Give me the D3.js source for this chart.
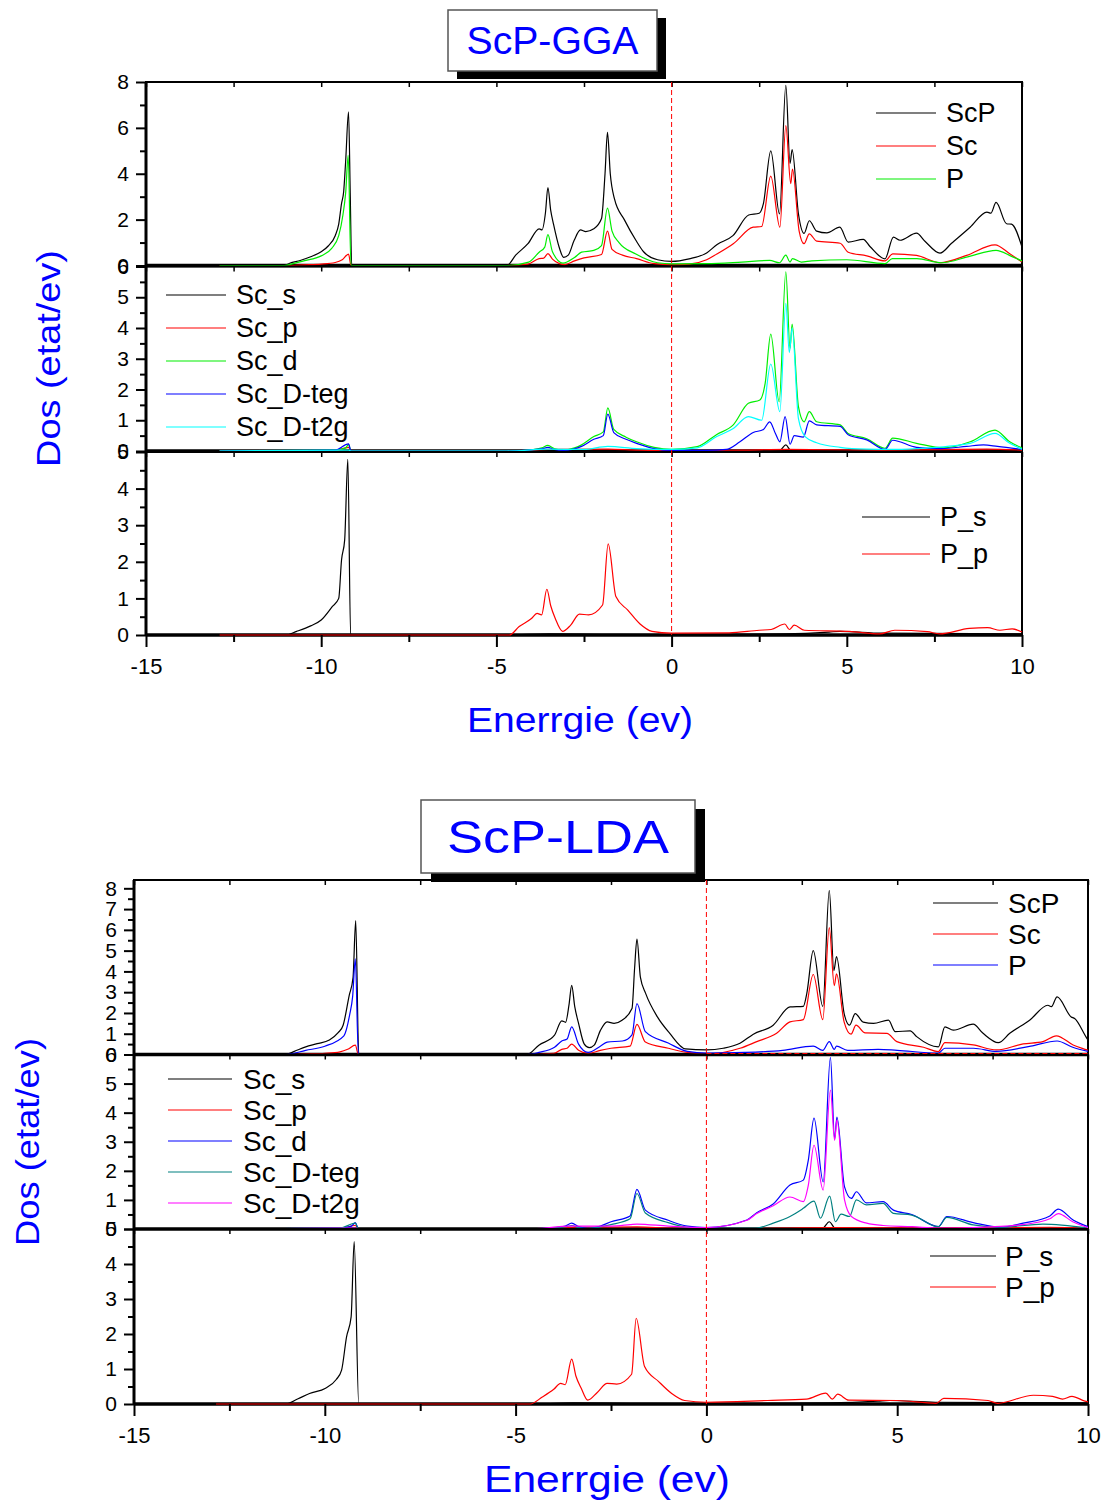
<!DOCTYPE html>
<html>
<head>
<meta charset="utf-8">
<script src="https://cdn.jsdelivr.net/npm/d3@7"></script>
<style>
  body { margin: 0; background: #fff; }
  svg { display: block; }
  text { font-family: "Liberation Sans", Arial, sans-serif; }
</style>
</head>
<body>
<div id="container"></div>
<script>
/**
 * DATA  ([energy eV, DOS states/eV] pairs)
 */
const xTicks = [-15, -10, -5, 0, 5, 10]
const xMinor = [-12.5, -7.5, -2.5, 2.5, 7.5]
const xTopTicks = [-15, -12.5, -10, -7.5, -5, -2.5, 0, 2.5, 5, 7.5, 10]

// ---- GGA
const ggaScP = [[-12.9,0],[-11.05,0],[-10.9,0.1],[-10.6,0.22],[-10.3,0.38],[-10.0,0.6],[-9.8,0.85],[-9.6,1.3],[-9.5,1.8],[-9.42,2.7],[-9.36,3.2],[-9.3,4.6],[-9.22,6.7],[-9.17,3.0],[-9.13,0],[-4.7,0],[-4.45,0.45],[-4.1,0.95],[-3.78,1.6],[-3.7,1.55],[-3.6,2.3],[-3.53,3.4],[-3.45,2.4],[-3.37,1.8],[-3.2,0.75],[-3.08,0.35],[-2.95,0.45],[-2.78,1.1],[-2.6,1.55],[-2.45,1.48],[-2.22,1.6],[-2.0,2.05],[-1.9,4.0],[-1.83,5.8],[-1.75,4.0],[-1.63,2.9],[-1.35,2.0],[-1.02,1.1],[-0.8,0.6],[-0.4,0.25],[0,0.18],[0.5,0.29],[1.0,0.55],[1.3,0.92],[1.75,1.3],[2.2,2.2],[2.5,2.28],[2.62,2.7],[2.83,5.0],[3.08,2.25],[3.26,7.85],[3.38,4.45],[3.44,5.05],[3.62,2.25],[3.78,1.4],[3.93,1.95],[4.14,1.5],[4.43,1.42],[4.8,1.67],[5.04,1.02],[5.47,1.14],[5.66,0.83],[6.09,0.29],[6.33,1.24],[6.52,1.1],[6.99,1.41],[7.23,1.06],[7.66,0.54],[7.99,0.97],[8.52,1.67],[9.0,2.33],[9.11,2.28],[9.26,2.75],[9.56,1.82],[9.7,1.8],[10,0.8]]
const ggaSc = [[-12.9,0],[-11.05,0],[-10.5,0.03],[-10,0.06],[-9.6,0.13],[-9.4,0.25],[-9.22,0.5],[-9.15,0],[-4.7,0],[-4.1,0.06],[-3.78,0.3],[-3.65,0.32],[-3.53,0.52],[-3.4,0.28],[-3.2,0.08],[-3.05,0.04],[-2.77,0.2],[-2.5,0.33],[-2.0,0.48],[-1.83,1.5],[-1.7,0.7],[-1.4,0.45],[-1.0,0.3],[-0.5,0.08],[0,0.03],[0.5,0.06],[1.0,0.25],[1.29,0.5],[1.76,0.95],[2.33,1.67],[2.57,1.7],[2.83,3.9],[3.09,1.67],[3.26,6.1],[3.4,3.57],[3.45,4.2],[3.64,1.5],[3.78,0.95],[3.93,1.38],[4.14,1.06],[4.81,0.97],[5.04,0.58],[5.57,0.42],[6.09,0.2],[6.31,0.51],[6.99,0.44],[7.66,0.12],[8.42,0.44],[9.23,0.9],[9.65,0.51],[10,0.15]]
const ggaP = [[-12.9,0],[-11.05,0],[-10.8,0.08],[-10.5,0.2],[-10,0.42],[-9.7,0.75],[-9.5,1.3],[-9.38,2.2],[-9.3,3.2],[-9.23,4.8],[-9.15,0],[-4.7,0],[-4.08,0.15],[-3.78,0.58],[-3.62,0.8],[-3.53,1.35],[-3.4,0.6],[-3.1,0.1],[-2.77,0.35],[-2.57,0.58],[-2.22,0.66],[-2.0,0.87],[-1.83,2.5],[-1.7,1.5],[-1.5,1.0],[-1.02,0.5],[-0.4,0.12],[0,0.07],[1,0.08],[2,0.15],[2.8,0.22],[3.08,0.12],[3.26,0.45],[3.38,0.15],[3.45,0.3],[3.7,0.15],[4.0,0.2],[5,0.25],[6.09,0.08],[6.3,0.3],[7,0.3],[7.7,0.12],[8.5,0.4],[9.26,0.66],[9.7,0.4],[10,0.2]]

const ggaScS = [[-12.9,0],[-9.2,0.02],[-9.1,0],[-4.7,0],[-3.5,0.03],[-1.8,0.02],[0,0.01],[2.8,0.02],[3.1,0.03],[3.26,0.2],[3.4,0.02],[5,0.02],[10,0.02]]
const ggaScPorb = [[-12.9,0],[-9.6,0.02],[-9.22,0.12],[-9.15,0],[-4.7,0],[-3.5,0.05],[-1.82,0.06],[-1,0.03],[0,0.01],[2,0.03],[3.3,0.05],[6,0.03],[9,0.06],[10,0.03]]
const ggaScD = [[-12.9,0],[-9.6,0.03],[-9.3,0.1],[-9.22,0.22],[-9.15,0],[-4.7,0],[-4.0,0.04],[-3.7,0.1],[-3.53,0.18],[-3.35,0.08],[-3.1,0.02],[-2.77,0.1],[-2.57,0.2],[-2.22,0.47],[-1.95,0.62],[-1.82,1.4],[-1.65,0.7],[-1.3,0.45],[-1.0,0.3],[-0.5,0.12],[0,0.05],[0.73,0.14],[1.29,0.54],[1.76,0.85],[2.19,1.55],[2.52,1.66],[2.67,2.2],[2.83,3.8],[3.07,1.6],[3.26,5.83],[3.38,3.34],[3.44,4.13],[3.62,1.44],[3.78,0.95],[3.93,1.28],[4.14,0.95],[4.81,0.85],[5.04,0.57],[5.57,0.4],[6.09,0.09],[6.31,0.42],[6.99,0.25],[7.76,0.1],[8.52,0.3],[9.23,0.68],[9.65,0.3],[10,0.1]]
const ggaScTeg = [[-12.9,0],[-9.6,0.03],[-9.22,0.23],[-9.15,0],[-4.7,0],[-3.7,0.07],[-3.53,0.12],[-3.35,0.05],[-3.1,0.02],[-2.57,0.15],[-2.22,0.38],[-1.95,0.5],[-1.82,1.2],[-1.65,0.6],[-1.3,0.38],[-1.0,0.25],[-0.5,0.08],[0,0.02],[1.0,0.02],[1.56,0.05],[1.95,0.3],[2.33,0.6],[2.62,0.7],[2.8,0.95],[2.97,0.55],[3.09,0.3],[3.24,1.12],[3.38,0.22],[3.5,0.5],[3.76,0.45],[3.93,0.98],[4.14,0.85],[4.81,0.8],[5.04,0.53],[5.57,0.36],[6.09,0.05],[6.31,0.35],[6.99,0.12],[7.7,0.08],[8.42,0.15],[8.9,0.2],[9.3,0.15],[10,0.05]]
const ggaScT2g = [[-12.9,0],[-9.22,0.03],[-9.15,0],[-4.7,0],[-3.53,0.06],[-2.5,0.05],[-1.82,0.15],[-1.0,0.08],[0,0.05],[0.73,0.1],[1.29,0.47],[1.76,0.73],[2.19,1.12],[2.57,1.0],[2.83,2.83],[3.09,1.28],[3.26,4.8],[3.36,3.2],[3.44,4.0],[3.62,1.05],[3.81,0.47],[4.14,0.27],[4.81,0.12],[5.57,0.06],[6.23,0.05],[6.99,0.08],[8.52,0.25],[9.23,0.57],[9.65,0.25],[10,0.06]]

const ggaPs = [[-12.9,0],[-11.02,0],[-10.7,0.1],[-10.3,0.25],[-10.0,0.41],[-9.68,0.78],[-9.5,1.0],[-9.42,2.05],[-9.33,2.6],[-9.24,4.8],[-9.16,0],[-4.7,0],[-3.5,0.03],[-2,0.02],[0,0.01],[3.2,0.03],[4.5,0.08],[4.8,0.1],[6,0.05],[10,0.03]]
const ggaPp = [[-12.9,0],[-4.63,0],[-4.35,0.23],[-4.0,0.45],[-3.84,0.59],[-3.71,0.55],[-3.56,1.25],[-3.45,0.8],[-3.32,0.45],[-3.11,0.1],[-2.88,0.27],[-2.63,0.57],[-2.37,0.55],[-1.97,0.82],[-1.81,2.49],[-1.59,1.05],[-1.25,0.68],[-0.9,0.3],[-0.56,0.1],[0,0.05],[1.64,0.06],[2.5,0.13],[2.84,0.15],[3.23,0.3],[3.36,0.15],[3.5,0.27],[3.79,0.13],[5.07,0.1],[5.93,0.03],[6.37,0.13],[7.3,0.09],[7.65,0.03],[8.5,0.18],[9.02,0.2],[9.37,0.13],[9.72,0.17],[10,0.08]]

// ---- LDA
const ldaScP = [[-12.85,0],[-11.02,0],[-10.8,0.15],[-10.5,0.37],[-10.2,0.52],[-9.88,0.7],[-9.65,1.05],[-9.52,1.41],[-9.36,2.85],[-9.26,3.7],[-9.19,6.44],[-9.11,0],[-4.7,0],[-4.39,0.45],[-3.98,0.93],[-3.79,1.62],[-3.69,1.55],[-3.6,2.4],[-3.53,3.33],[-3.45,2.3],[-3.35,1.5],[-3.2,0.5],[-3.07,0.33],[-2.94,0.45],[-2.78,1.15],[-2.6,1.57],[-2.42,1.5],[-2.21,1.65],[-1.95,2.21],[-1.88,4.2],[-1.82,5.56],[-1.73,3.72],[-1.59,2.93],[-1.28,1.8],[-0.97,1.04],[-0.55,0.27],[0,0.22],[0.44,0.3],[0.88,0.54],[1.23,0.98],[1.75,1.41],[2.19,2.29],[2.54,2.32],[2.63,2.93],[2.8,5.0],[3.05,2.32],[3.22,7.9],[3.34,4.04],[3.41,4.71],[3.61,1.97],[3.75,1.41],[3.9,1.97],[4.11,1.56],[4.38,1.5],[4.77,1.65],[4.95,1.1],[5.34,1.14],[5.51,0.86],[6.08,0.37],[6.25,1.33],[6.47,1.17],[6.99,1.46],[7.25,1.02],[7.65,0.57],[7.95,1.02],[8.47,1.65],[8.95,2.37],[9.04,2.3],[9.19,2.77],[9.56,1.81],[9.65,1.73],[9.97,0.78],[10,0.7]]
const ldaSc = [[-12.85,0],[-11.02,0],[-10.5,0.03],[-10,0.06],[-9.6,0.13],[-9.4,0.25],[-9.2,0.45],[-9.12,0],[-4.7,0],[-4.0,0.05],[-3.79,0.25],[-3.65,0.3],[-3.53,0.5],[-3.35,0.2],[-3.1,0.05],[-2.78,0.2],[-2.5,0.3],[-2.0,0.4],[-1.82,1.45],[-1.6,0.6],[-1.0,0.3],[-0.5,0.1],[0,0.03],[0.88,0.3],[1.32,0.62],[1.84,1.02],[2.19,1.57],[2.54,1.68],[2.8,3.85],[3.05,1.68],[3.22,6.11],[3.35,3.32],[3.41,3.88],[3.61,1.56],[3.79,0.98],[3.92,1.41],[4.16,1.04],[4.73,1.02],[4.99,0.62],[5.69,0.35],[6.08,0.14],[6.25,0.57],[6.99,0.46],[7.6,0.22],[8.3,0.51],[8.82,0.62],[9.17,0.9],[9.61,0.46],[9.97,0.22],[10,0.2]]
const ldaP = [[-12.85,0],[-11.02,0],[-10.5,0.2],[-10,0.4],[-9.5,0.9],[-9.35,1.9],[-9.27,2.8],[-9.2,4.6],[-9.12,0],[-4.7,0],[-4.39,0.1],[-3.98,0.35],[-3.79,0.65],[-3.65,0.75],[-3.53,1.33],[-3.35,0.5],[-3.1,0.1],[-2.78,0.4],[-2.6,0.6],[-2.2,0.65],[-1.95,0.95],[-1.82,2.45],[-1.6,1.1],[-1.0,0.55],[-0.5,0.15],[0,0.07],[1,0.1],[2,0.2],[2.8,0.4],[3.05,0.2],[3.22,0.62],[3.35,0.25],[3.41,0.4],[3.7,0.2],[4.5,0.25],[5,0.2],[6.08,0.07],[6.25,0.3],[7,0.3],[7.6,0.15],[8.5,0.4],[9.19,0.65],[9.6,0.35],[10,0.15]]

const ldaScS = [[-12.85,0],[-9.2,0.02],[-9.1,0],[-4.7,0],[-3.5,0.03],[-1.8,0.02],[0,0.01],[2.8,0.02],[3.05,0.03],[3.22,0.25],[3.38,0.02],[5,0.02],[10,0.02]]
const ldaScPorb = [[-12.85,0],[-9.6,0.02],[-9.2,0.12],[-9.12,0],[-4.7,0],[-3.5,0.06],[-1.82,0.07],[-1,0.03],[0,0.01],[2,0.03],[3.3,0.05],[6,0.03],[9,0.06],[10,0.03]]
const ldaScD = [[-12.85,0],[-9.6,0.03],[-9.3,0.1],[-9.2,0.22],[-9.12,0],[-4.7,0],[-4.0,0.04],[-3.7,0.1],[-3.53,0.2],[-3.35,0.08],[-3.1,0.02],[-2.78,0.1],[-2.5,0.25],[-2.0,0.45],[-1.82,1.36],[-1.6,0.65],[-1.0,0.3],[-0.5,0.1],[0,0.05],[1.06,0.31],[1.32,0.56],[1.75,0.86],[2.19,1.51],[2.54,1.68],[2.67,2.36],[2.82,3.81],[3.06,1.62],[3.25,5.9],[3.36,3.1],[3.42,3.85],[3.62,1.45],[3.8,1.05],[3.93,1.28],[4.19,0.9],[4.63,0.94],[4.9,0.65],[5.38,0.5],[6.08,0.08],[6.3,0.43],[6.99,0.22],[7.69,0.06],[8.3,0.2],[9.0,0.45],[9.22,0.68],[9.61,0.31],[10,0.08]]
const ldaScTeg = [[-12.85,0],[-9.6,0.03],[-9.2,0.2],[-9.12,0],[-4.7,0],[-3.7,0.07],[-3.53,0.12],[-3.35,0.05],[-3.1,0.02],[-2.5,0.15],[-2.0,0.35],[-1.82,1.22],[-1.6,0.55],[-1.0,0.22],[-0.5,0.06],[0,0.02],[1.3,0.03],[1.75,0.2],[2.19,0.43],[2.54,0.71],[2.82,0.96],[2.99,0.37],[3.23,1.13],[3.38,0.25],[3.53,0.51],[3.75,0.43],[3.93,1.0],[4.19,0.83],[4.63,0.88],[4.9,0.54],[5.38,0.48],[6.08,0.08],[6.3,0.4],[6.99,0.14],[7.69,0.06],[8.82,0.17],[10,0.03]]
const ldaScT2g = [[-12.85,0],[-9.2,0.03],[-9.12,0],[-4.7,0],[-3.53,0.1],[-2.5,0.1],[-2.0,0.15],[-1.82,0.17],[-1.0,0.1],[0,0.05],[1.06,0.3],[1.32,0.53],[1.75,0.8],[2.19,1.1],[2.54,0.94],[2.67,1.5],[2.82,2.88],[3.06,1.34],[3.25,4.78],[3.36,3.05],[3.42,3.75],[3.62,1.0],[3.8,0.43],[4.2,0.2],[4.63,0.12],[5.4,0.08],[6.08,0.03],[7,0.05],[8.3,0.15],[9.0,0.35],[9.22,0.53],[9.6,0.25],[10,0.05]]

const ldaPs = [[-12.85,0],[-11.02,0],[-10.7,0.15],[-10.4,0.3],[-9.98,0.45],[-9.7,0.7],[-9.56,0.97],[-9.43,1.92],[-9.31,2.49],[-9.23,4.64],[-9.11,0],[-4.7,0],[-3.5,0.03],[-2,0.02],[0,0.01],[3.2,0.03],[4.5,0.08],[4.8,0.1],[6,0.05],[10,0.03]]
const ldaPp = [[-12.85,0],[-4.62,0],[-4.3,0.2],[-4.0,0.42],[-3.82,0.59],[-3.7,0.55],[-3.53,1.28],[-3.42,0.8],[-3.28,0.45],[-3.11,0.11],[-2.86,0.33],[-2.6,0.59],[-2.35,0.57],[-1.96,0.85],[-1.84,2.45],[-1.62,1.07],[-1.25,0.64],[-0.91,0.3],[-0.57,0.1],[0,0.05],[1.6,0.1],[2.62,0.14],[3.13,0.31],[3.3,0.14],[3.44,0.28],[3.73,0.11],[5.0,0.1],[6.02,0.02],[6.22,0.16],[7.38,0.1],[7.63,0.02],[8.57,0.25],[9.07,0.22],[9.33,0.14],[9.58,0.22],[9.92,0.08],[10,0.06]]

/**
 * LAYOUT
 */
const w = 1105
const h = 1501

const figures = [
  {
    title: 'ScP-GGA', titleBox: [448, 10, 209, 61], shadow: 9, titleSize: 38, titleLen: 172,
    xRange: [146, 1022], xTitleY: 732, xTitleLen: 226, xTitleSize: 35,
    yTitleX: 48, yTitleLen: 217, yTitleSize: 34, legendSize: 27, zeroDash: false,
    panels: [
      { top: 82, bottom: 265.5, domain: [0, 8], ticks: [0, 2, 4, 6, 8], minor: [1, 3, 5, 7],
        series: [[ggaScP, '#000'], [ggaSc, '#ff0000'], [ggaP, '#00ee00']],
        legend: { x1: 876, x2: 936, tx: 946, ys: [113, 146, 179], names: ['ScP', 'Sc', 'P'] } },
      { top: 266.5, bottom: 451, domain: [0, 6], ticks: [0, 1, 2, 3, 4, 5, 6], minor: [0.5, 1.5, 2.5, 3.5, 4.5, 5.5],
        series: [[ggaScS, '#000'], [ggaScPorb, '#ff0000'], [ggaScD, '#00ee00'], [ggaScTeg, '#0000ff'], [ggaScT2g, '#00ffff']],
        legend: { x1: 166, x2: 226, tx: 236, ys: [295, 328, 361, 394, 427], names: ['Sc_s', 'Sc_p', 'Sc_d', 'Sc_D-teg', 'Sc_D-t2g'] } },
      { top: 452, bottom: 635, domain: [0, 5], ticks: [0, 1, 2, 3, 4, 5], minor: [0.5, 1.5, 2.5, 3.5, 4.5],
        series: [[ggaPs, '#000'], [ggaPp, '#ff0000']],
        legend: { x1: 862, x2: 930, tx: 940, ys: [517, 554], names: ['P_s', 'P_p'] } }
    ]
  },
  {
    title: 'ScP-LDA', titleBox: [421, 800, 274, 73], shadow: 10, titleSize: 46, titleLen: 222,
    xRange: [134, 1088], xTitleY: 1492, xTitleLen: 246, xTitleSize: 36,
    yTitleX: 27, yTitleLen: 208, yTitleSize: 33, legendSize: 28, zeroDash: true,
    panels: [
      { top: 880, bottom: 1054.5, domain: [0, 8.4], ticks: [0, 1, 2, 3, 4, 5, 6, 7, 8], minor: [0.5, 1.5, 2.5, 3.5, 4.5, 5.5, 6.5, 7.5],
        series: [[ldaScP, '#000'], [ldaSc, '#ff0000'], [ldaP, '#0000ff']],
        legend: { x1: 933, x2: 998, tx: 1008, ys: [903, 934, 965], names: ['ScP', 'Sc', 'P'] } },
      { top: 1054.5, bottom: 1229, domain: [0, 6], ticks: [0, 1, 2, 3, 4, 5, 6], minor: [0.5, 1.5, 2.5, 3.5, 4.5, 5.5],
        series: [[ldaScS, '#000'], [ldaScPorb, '#ff0000'], [ldaScD, '#0000ff'], [ldaScTeg, '#008080'], [ldaScT2g, '#ff00ff']],
        legend: { x1: 168, x2: 232, tx: 243, ys: [1079, 1110, 1141, 1172, 1203], names: ['Sc_s', 'Sc_p', 'Sc_d', 'Sc_D-teg', 'Sc_D-t2g'] } },
      { top: 1229, bottom: 1404, domain: [0, 5], ticks: [0, 1, 2, 3, 4, 5], minor: [0.5, 1.5, 2.5, 3.5, 4.5],
        series: [[ldaPs, '#000'], [ldaPp, '#ff0000']],
        legend: { x1: 930, x2: 996, tx: 1005, ys: [1256, 1287], names: ['P_s', 'P_p'] } }
    ]
  }
]

// plain hyphen minus like the original, not the unicode minus of d3.format
function plain(d) { return String(d) }

function styleAxis(sel, width) {
  sel.select('.domain').remove()
  sel.selectAll('.tick line').attr('stroke', '#000').attr('stroke-width', width)
  sel.selectAll('.tick text').attr('fill', '#000')
    .style('font-family', '"Liberation Sans", Arial, sans-serif')
}

const svg = d3.select('#container').append('svg')
  .attr('width', w)
  .attr('height', h)

figures.forEach(drawFigure)

function drawFigure(fig) {
  const x = d3.scaleLinear().domain([-15, 10]).range(fig.xRange)
  const g = svg.append('g')
  const top = fig.panels[0].top
  const bottom = fig.panels[fig.panels.length - 1].bottom

  fig.panels.forEach((p) => {
    const y = d3.scaleLinear().domain(p.domain).range([p.bottom, p.top])
    const line = d3.line().x(d => x(d[0])).y(d => y(d[1])).curve(d3.curveMonotoneX)

    // left axis, major and minor ticks pointing out
    g.append('g')
      .attr('transform', `translate(${fig.xRange[0]},0)`)
      .call(d3.axisLeft(y).tickValues(p.ticks).tickSize(10).tickPadding(7).tickFormat(plain))
      .call(s => styleAxis(s, 2))
      .call(s => s.selectAll('.tick text').style('font-size', '21px'))
    g.append('g')
      .attr('transform', `translate(${fig.xRange[0]},0)`)
      .call(d3.axisLeft(y).tickValues(p.minor).tickSize(6).tickFormat(''))
      .call(s => styleAxis(s, 2))

    // small ticks pointing in from the top edge
    g.append('g')
      .attr('transform', `translate(0,${p.top})`)
      .call(d3.axisBottom(x).tickValues(xTopTicks).tickSize(5).tickFormat(''))
      .call(s => styleAxis(s, 1.5))

    // panel frame
    g.append('rect')
      .attr('x', fig.xRange[0]).attr('y', p.top)
      .attr('width', fig.xRange[1] - fig.xRange[0]).attr('height', p.bottom - p.top)
      .attr('fill', 'none').attr('stroke', '#000').attr('stroke-width', 2)
    g.append('line')
      .attr('x1', fig.xRange[0]).attr('x2', fig.xRange[1])
      .attr('y1', p.bottom).attr('y2', p.bottom)
      .attr('stroke', '#000').attr('stroke-width', 3.5)

    // curves, drawn over the frame so the flat zero parts stay visible
    p.series.forEach(([data, color]) => {
      g.append('path')
        .datum(data)
        .attr('d', line)
        .attr('fill', 'none')
        .attr('stroke', color)
        .attr('stroke-width', 1.2)
    })

    // legend
    const lg = p.legend
    lg.names.forEach((name, i) => {
      g.append('line')
        .attr('x1', lg.x1).attr('x2', lg.x2)
        .attr('y1', lg.ys[i]).attr('y2', lg.ys[i])
        .attr('stroke', p.series[i][1]).attr('stroke-width', 1.2)
      g.append('text')
        .attr('x', lg.tx).attr('y', lg.ys[i])
        .attr('dominant-baseline', 'central')
        .style('font-size', fig.legendSize + 'px')
        .text(name)
    })
  })

  // zero line in red dashes under the first panel (LDA only)
  if (fig.zeroDash) {
    const p = fig.panels[0]
    g.append('line')
      .attr('x1', x(0)).attr('x2', x(10))
      .attr('y1', p.bottom - 1).attr('y2', p.bottom - 1)
      .attr('stroke', '#ff0000').attr('stroke-width', 1.2).attr('stroke-dasharray', '5,3')
  }

  // Fermi level
  g.append('line')
    .attr('x1', x(0)).attr('x2', x(0))
    .attr('y1', top).attr('y2', bottom)
    .attr('stroke', '#ff0000').attr('stroke-width', 1).attr('stroke-dasharray', '5,3')

  // bottom axis
  g.append('g')
    .attr('transform', `translate(0,${bottom})`)
    .call(d3.axisBottom(x).tickValues(xTicks).tickSize(12).tickPadding(11).tickFormat(plain))
    .call(s => styleAxis(s, 2))
    .call(s => s.selectAll('.tick text').style('font-size', '22px'))
  g.append('g')
    .attr('transform', `translate(0,${bottom})`)
    .call(d3.axisBottom(x).tickValues(xMinor).tickSize(7).tickFormat(''))
    .call(s => styleAxis(s, 2))

  // left axis line
  g.append('line')
    .attr('x1', fig.xRange[0]).attr('x2', fig.xRange[0])
    .attr('y1', top).attr('y2', bottom)
    .attr('stroke', '#000').attr('stroke-width', 3)

  // axis titles
  g.append('text')
    .attr('x', (fig.xRange[0] + fig.xRange[1]) / 2 - 4).attr('y', fig.xTitleY)
    .attr('text-anchor', 'middle')
    .attr('fill', '#0000ff')
    .attr('textLength', fig.xTitleLen).attr('lengthAdjust', 'spacingAndGlyphs')
    .style('font-size', fig.xTitleSize + 'px')
    .text('Enerrgie (ev)')
  const yMid = (top + bottom) / 2
  g.append('text')
    .attr('transform', `translate(${fig.yTitleX},${yMid}) rotate(-90)`)
    .attr('text-anchor', 'middle')
    .attr('dominant-baseline', 'central')
    .attr('fill', '#0000ff')
    .attr('textLength', fig.yTitleLen).attr('lengthAdjust', 'spacingAndGlyphs')
    .style('font-size', fig.yTitleSize + 'px')
    .text('Dos (etat/ev)')

  // title box with drop shadow
  const [bx, by, bw, bh] = fig.titleBox
  g.append('rect')
    .attr('x', bx + fig.shadow).attr('y', by + fig.shadow - 1)
    .attr('width', bw).attr('height', bh)
    .attr('fill', '#000')
  g.append('rect')
    .attr('x', bx).attr('y', by)
    .attr('width', bw).attr('height', bh)
    .attr('fill', '#fff').attr('stroke', '#555').attr('stroke-width', 1.5)
  g.append('text')
    .attr('x', bx + bw / 2).attr('y', by + bh / 2)
    .attr('text-anchor', 'middle')
    .attr('dominant-baseline', 'central')
    .attr('fill', '#0000ff')
    .attr('textLength', fig.titleLen).attr('lengthAdjust', 'spacingAndGlyphs')
    .style('font-size', fig.titleSize + 'px')
    .text(fig.title)
}
</script>
</body>
</html>
